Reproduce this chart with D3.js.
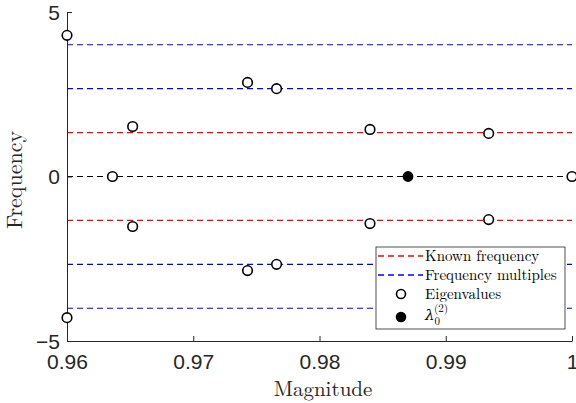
<!DOCTYPE html>
<html>
<head>
<meta charset="utf-8">
<script src="https://cdn.jsdelivr.net/npm/d3@7"></script>
<style>
  body { margin: 0; background: #fff; }
  .serif { font-family: "Latin Modern Roman", "DejaVu Serif", serif; }
  .sans { font-family: "Liberation Sans", Arial, sans-serif; }
</style>
</head>
<body>
<div class="canvas"></div>
<script>
// data
const knownFreq = [1.335, -1.335];
const multiples = [2.67, -2.67, 4.005, -4.005];
const zeroLine = [0];

const eigMag = [0.96, 0.96, 0.9636, 0.9652, 0.9652, 0.9743, 0.9743, 0.9766, 0.9766, 0.9840, 0.9840, 0.9934, 0.9934, 1.0];
const eigFreq = [4.29, -4.29, 0, 1.52, -1.52, 2.86, -2.86, 2.67, -2.67, 1.43, -1.43, 1.31, -1.31, 0];

const lambdaMag = [0.98701];
const lambdaFreq = [0];

const xTicks = [0.96, 0.97, 0.98, 0.99, 1];
const yTicks = [-5, 0, 5];

const W = 576, H = 403;
const mLeft = 67, mRight = 572, mTop = 12, mBottom = 341;

const svg = d3.select('.canvas').append('svg')
    .attr('width', W)
    .attr('height', H);

const x = d3.scaleLinear().domain([0.96, 1]).range([mLeft, mRight]);
const y = d3.scaleLinear().domain([-5, 5]).range([mBottom, mTop]);

// dashed reference lines
function hlines(vals, color) {
  svg.selectAll(null)
    .data(vals)
    .enter().append('line')
    .attr('x1', mLeft)
    .attr('x2', mRight)
    .attr('y1', d => y(d))
    .attr('y2', d => y(d))
    .attr('stroke', color)
    .attr('stroke-width', 1.2)
    .attr('stroke-dasharray', '6,4');
}
hlines(knownFreq, '#ff0000');
hlines(multiples, '#0000ff');
hlines(zeroLine, '#000000');

// axes
const axisColor = '#262626';
const xAxis = svg.append('g')
    .attr('transform', `translate(0,${mBottom})`)
    .call(d3.axisBottom(x).tickValues(xTicks).tickSizeInner(-5).tickSizeOuter(0)
      .tickFormat(d => d === 1 ? '1' : d3.format('.2f')(d)));
const yAxis = svg.append('g')
    .attr('transform', `translate(${mLeft},0)`)
    .call(d3.axisLeft(y).tickValues(yTicks).tickSizeInner(-5).tickSizeOuter(0));

[xAxis, yAxis].forEach(g => {
  g.attr('font-family', null).attr('font-size', null);
  g.select('.domain').attr('stroke', axisColor);
  g.selectAll('.tick line').attr('stroke', axisColor);
  g.selectAll('.tick text')
    .attr('class', 'sans')
    .attr('fill', '#262626')
    .style('font-size', '21px');
});
xAxis.selectAll('.tick text').attr('y', 13).attr('dy', '0.71em');
yAxis.selectAll('.tick text').attr('x', -7).attr('dy', '0.35em');

// axis labels
svg.append('text')
    .attr('class', 'serif')
    .text('Magnitude')
    .attr('x', 323)
    .attr('y', 396)
    .attr('text-anchor', 'middle')
    .style('font-size', '21px')
    .attr('fill', '#262626');

svg.append('text')
    .attr('class', 'serif')
    .text('Frequency')
    .attr('transform', 'translate(22,180) rotate(-90)')
    .attr('text-anchor', 'middle')
    .style('font-size', '22px')
    .attr('fill', '#262626');

// eigenvalues
svg.selectAll('.eig')
    .data(eigMag)
    .enter().append('circle')
    .attr('class', 'eig')
    .attr('cx', d => x(d))
    .attr('cy', (d, i) => y(eigFreq[i]))
    .attr('r', 4.8)
    .attr('fill', 'white')
    .attr('stroke', 'black')
    .attr('stroke-width', 1.6);

svg.selectAll('.lam')
    .data(lambdaMag)
    .enter().append('circle')
    .attr('class', 'lam')
    .attr('cx', d => x(d))
    .attr('cy', (d, i) => y(lambdaFreq[i]))
    .attr('r', 4.8)
    .attr('fill', 'black')
    .attr('stroke', 'black')
    .attr('stroke-width', 1.2);

// legend
const lg = svg.append('g').attr('transform', 'translate(376,247)');
lg.append('rect')
    .attr('width', 189)
    .attr('height', 82)
    .attr('fill', 'white')
    .attr('stroke', '#262626')
    .attr('stroke-width', 0.8);

const entries = [
  { type: 'line', color: '#ff0000', label: 'Known frequency', cy: 9 },
  { type: 'line', color: '#0000ff', label: 'Frequency multiples', cy: 28 },
  { type: 'open', label: 'Eigenvalues', cy: 47 },
  { type: 'filled', label: '', cy: 70 }
];
entries.forEach(e => {
  if (e.type === 'line') {
    lg.append('line')
      .attr('x1', 2).attr('x2', 47)
      .attr('y1', e.cy).attr('y2', e.cy)
      .attr('stroke', e.color)
      .attr('stroke-width', 1.3)
      .attr('stroke-dasharray', '6,4');
  } else {
    lg.append('circle')
      .attr('cx', 25).attr('cy', e.cy)
      .attr('r', 4.5)
      .attr('fill', e.type === 'filled' ? 'black' : 'white')
      .attr('stroke', 'black')
      .attr('stroke-width', 1.6);
  }
  const t = lg.append('text')
    .attr('class', 'serif')
    .attr('x', 49)
    .attr('y', e.cy + 5)
    .style('font-size', '15px')
    .attr('fill', '#000');
  if (e.label) {
    t.text(e.label);
  } else {
    t.attr('y', e.cy + 3);
    t.append('tspan').style('font-style', 'italic').text('λ');
    t.append('tspan').style('font-size', '11px').attr('dy', 5).text('0');
    t.append('tspan').style('font-size', '11px').attr('dx', -6).attr('dy', -13).text('(2)');
  }
});
</script>
</body>
</html>
